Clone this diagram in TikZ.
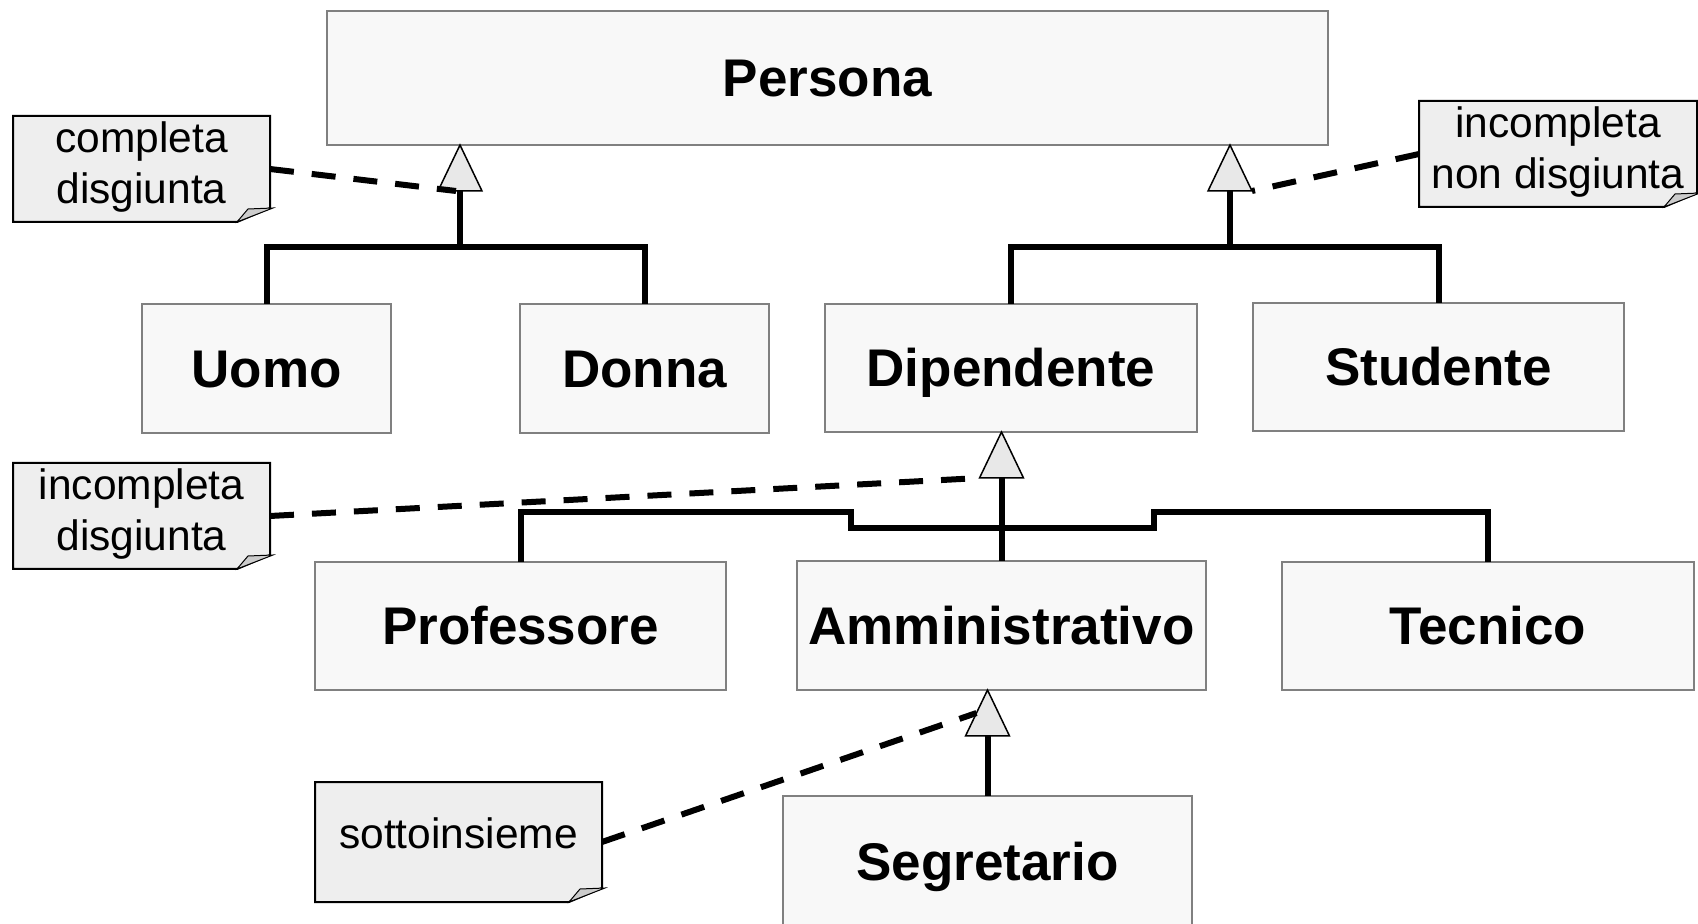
\documentclass[tikz,border=0pt]{standalone}
\usepackage{fontspec}
\setmainfont{Liberation Sans}
\usetikzlibrary{calc}
\pgfdeclarelayer{bg}
\pgfsetlayers{bg,main}
\definecolor{boxfill}{HTML}{F8F8F8}
\definecolor{boxline}{HTML}{808080}
\definecolor{notefill}{HTML}{EEEEEE}
\definecolor{foldfill}{HTML}{CCCCCC}
\definecolor{trifill}{HTML}{E8E8E8}

% apex of a generalisation triangle; defines #1l, #1r (base corners) and #1b (base centre)
\newcommand\GenTri[2]{%
  \coordinate (#1) at (#2);
  \path (#1) ++(-22,46) coordinate (#1l) ++(44,0) coordinate (#1r);
  \path (#1) ++(0,46) coordinate (#1b);}
\newcommand\DrawTri[1]{\filldraw[tri] (#1) -- (#1l) -- (#1r) -- cycle;}
% note outline with folded bottom-right corner
\newcommand\NoteFrame[1]{%
  \begin{pgfonlayer}{bg}
    \filldraw[noteframe] (#1.north west) -- (#1.north east) -- ([yshift=7pt]#1.south east)
      -- ([xshift=-16.5pt]#1.south east) -- (#1.south west) -- cycle;
    \filldraw[fold] ([xshift=-16.5pt]#1.south east) -- ([xshift=-11pt,yshift=6.5pt]#1.south east)
      -- ([xshift=1.5pt,yshift=7pt]#1.south east) -- cycle;
  \end{pgfonlayer}}

\begin{document}
\begin{tikzpicture}[x=0.5pt,y=-0.5pt,
  cls/.style 2 args={draw=boxline, fill=boxfill, line width=1pt, inner sep=0pt, outer sep=0pt,
    minimum width={#1*0.5pt}, minimum height={#2*0.5pt}, text height=19pt, text depth=0pt,
    font=\fontsize{26.5}{30}\selectfont\bfseries},
  note/.style 2 args={inner sep=0pt, outer sep=0pt, align=center,
    minimum width={#1*0.5pt}, minimum height={#2*0.5pt}, text depth=6.5pt,
    font=\fontsize{21.25}{25.5}\selectfont},
  noteframe/.style={draw=black, fill=notefill, line width=1pt, line join=miter},
  fold/.style={draw=black, fill=foldfill, line width=0.5pt},
  tree/.style={draw=black, line width=3pt},
  tri/.style={draw=black, fill=trifill, line width=0.75pt, line join=miter},
  dashlink/.style={draw=black, line width=3pt, dash pattern=on 12pt off 9pt}]

\useasboundingbox (0,0) rectangle (1698,924);
\clip (0,0) rectangle (1698,924);

% classes
\node[cls={1001}{134}] (persona) at (827.5,78) {Persona};
\node[cls={249}{129}] (uomo) at (266.5,368.5) {Uomo};
\node[cls={249}{129}] (donna) at (644.5,368.5) {Donna};
\node[cls={372}{128}] (dip) at (1011,368) {Dipendente};
\node[cls={371}{128}] (stud) at (1438.5,367) {Studente};
\node[cls={411}{128}] (prof) at (520.5,626) {Professore};
\node[cls={409}{129}] (amm) at (1001.5,625.5) {Amministrativo};
\node[cls={412}{128}] (tec) at (1488,626) {Tecnico};
\node[cls={409}{130}] (seg) at (987.5,861) {Segretario};

% generalisation triangles
\GenTri{t1}{460,145}
\GenTri{t2}{1230,145}
\GenTri{t3}{dip.south -| amm.north}
\GenTri{t4}{amm.south -| seg.north}

% hierarchy lines
\coordinate (h1) at (460,247);
\coordinate (h2) at (1230,247);
\draw[tree] (uomo.north) |- (h1) -| (donna.north);
\draw[tree] (t1b) -- (h1);
\draw[tree] (dip.north) |- (h2) -| (stud.north);
\draw[tree] (t2b) -- (h2);

\coordinate (j1) at (851,512);
\coordinate (j2) at (851,528);
\coordinate (j3) at (1154,528);
\coordinate (j4) at (1154,512);
\draw[tree] (prof.north) |- (j1) -- (j2) -- (j3) -- (j4) -| (tec.north);
\draw[tree] (t3b) -- (amm.north);
\draw[tree] (t4b) -- (seg.north);

\DrawTri{t1}
\DrawTri{t2}
\DrawTri{t3}
\DrawTri{t4}

% constraint notes
\node[note={257}{106}] (n1) at (141.5,169) {completa\\disgiunta};
\node[note={278}{106}] (n2) at (1558,154) {incompleta\\non disgiunta};
\node[note={257}{106}] (n3) at (141.5,516) {incompleta\\disgiunta};
\node[note={287}{120}, text depth=8.6pt] (n4) at (458.5,842) {sottoinsieme};
\NoteFrame{n1}
\NoteFrame{n2}
\NoteFrame{n3}
\NoteFrame{n4}

\draw[dashlink] (n1.east) -- ($(t1b)+(-4,0)$);
\draw[dashlink] (n2.west) -- (t2r);
\draw[dashlink] (n3.east) -- (t3l);
\draw[dashlink] (n4.east) -- ($(t4)!0.5!(t4l)$);
\end{tikzpicture}
\end{document}
